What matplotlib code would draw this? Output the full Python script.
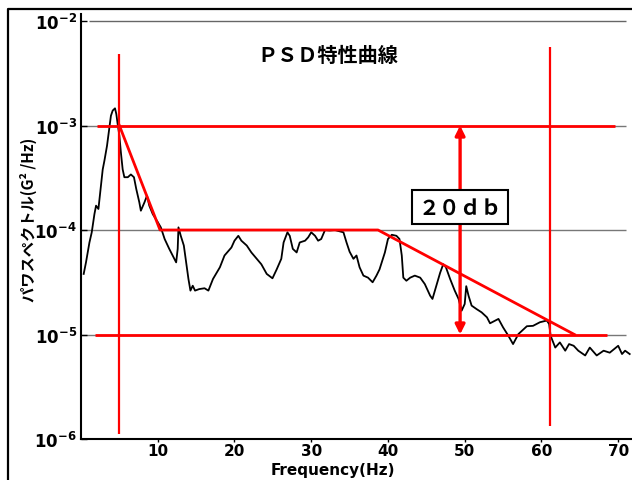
import matplotlib
matplotlib.use("Agg")
import matplotlib.pyplot as plt
from matplotlib.lines import Line2D

# ---- data ----------------------------------------------------------------
freq = [0.35, 0.65, 1.1, 1.4, 1.75, 1.96, 2.27, 2.6, 2.83, 3.05, 3.39, 3.7, 3.9,
        4.13, 4.43, 4.6, 4.78, 5.0, 5.2, 5.43, 5.65, 6.1, 6.5, 6.9, 7.2, 7.6, 7.8,
        8.27, 8.6, 8.9, 9.35, 10.0, 10.4, 10.9, 11.5, 11.95, 12.4, 12.6, 12.7, 13.0,
        13.4, 13.7, 14.0, 14.26, 14.56, 14.86, 15.4, 16.1, 16.6, 17.2, 18.1, 18.7,
        19.6, 20.0, 20.5, 20.9, 21.6, 22.2, 22.9, 23.5, 24.2, 24.95, 25.5, 26.1,
        26.4, 26.9, 27.2, 27.6, 28.1, 28.5, 29.2, 29.6, 30.0, 30.5, 30.9, 31.3,
        31.8, 32.4, 33.1, 33.5, 34.2, 34.6, 35.0, 35.5, 35.9, 36.3, 36.8, 37.4,
        38.0, 38.5, 38.9, 39.6, 40.0, 40.5, 41.1, 41.5, 41.8, 42.0, 42.4, 42.9,
        43.5, 44.2, 44.8, 45.5, 45.8, 46.3, 46.8, 47.2, 47.55, 48.1, 48.7, 49.2,
        49.6, 50.0, 50.2, 50.5, 50.9, 51.55, 52.2, 52.9, 53.3, 54.4, 55.0, 55.7,
        56.3, 57.0, 58.1, 58.9, 59.8, 60.7, 61.0, 61.2, 61.8, 62.4, 63.1, 63.6,
        64.2, 64.8, 65.7, 66.3, 67.2, 68.1, 68.9, 70.0, 70.5, 70.9, 71.5]
psd = [3.8e-5, 4.9e-5, 7.6e-5, 9.5e-5, 1.42e-4, 1.71e-4, 1.59e-4, 2.65e-4, 3.8e-4,
       4.6e-4, 6.4e-4, 9.6e-4, 1.24e-3, 1.39e-3, 1.46e-3, 1.29e-3, 1.03e-3, 8.0e-4,
       5.5e-4, 3.8e-4, 3.2e-4, 3.2e-4, 3.4e-4, 3.2e-4, 2.47e-4, 1.84e-4, 1.53e-4,
       1.84e-4, 2.13e-4, 1.71e-4, 1.42e-4, 1.19e-4, 1.06e-4, 8.2e-5, 6.6e-5, 5.7e-5,
       4.9e-5, 6.6e-5, 1.06e-4, 8.8e-5, 7.1e-5, 4.9e-5, 3.4e-5, 2.63e-5, 2.93e-5,
       2.63e-5, 2.72e-5, 2.77e-5, 2.63e-5, 3.4e-5, 4.4e-5, 5.7e-5, 6.8e-5, 7.9e-5,
       8.8e-5, 7.9e-5, 7.1e-5, 6.1e-5, 5.3e-5, 4.7e-5, 3.8e-5, 3.45e-5, 4.2e-5,
       5.3e-5, 7.6e-5, 9.5e-5, 8.8e-5, 6.6e-5, 6.1e-5, 7.6e-5, 7.9e-5, 8.5e-5,
       9.5e-5, 8.8e-5, 7.9e-5, 8.2e-5, 1.0e-4, 9.9e-5, 1.0e-4, 9.8e-5, 9.5e-5,
       7.6e-5, 6.2e-5, 5.3e-5, 5.7e-5, 4.4e-5, 3.66e-5, 3.5e-5, 3.16e-5, 3.66e-5,
       4.2e-5, 6.1e-5, 8.2e-5, 9.0e-5, 8.8e-5, 8.2e-5, 5.7e-5, 3.5e-5, 3.27e-5,
       3.5e-5, 3.66e-5, 3.5e-5, 3.04e-5, 2.35e-5, 2.19e-5, 2.93e-5, 3.9e-5, 4.7e-5,
       4.4e-5, 3.4e-5, 2.63e-5, 2.19e-5, 1.69e-5, 1.96e-5, 2.9e-5, 2.35e-5, 1.89e-5,
       1.75e-5, 1.63e-5, 1.46e-5, 1.28e-5, 1.41e-5, 1.17e-5, 9.7e-6, 8.1e-6, 1.01e-5,
       1.2e-5, 1.21e-5, 1.31e-5, 1.36e-5, 1.26e-5, 9.7e-6, 7.5e-6, 8.4e-6, 7.0e-6,
       8.1e-6, 7.8e-6, 7.0e-6, 6.3e-6, 7.5e-6, 6.3e-6, 7.0e-6, 6.7e-6, 7.8e-6,
       6.5e-6, 7.0e-6, 6.5e-6]

# red guide lines (profile envelope)
env_f = [5.0, 10.3, 38.7, 64.3]
env_p = [1e-3, 1e-4, 1e-4, 1e-5]
vlines_f = [5.0, 61.1]
vlines_lo = [1.12e-6, 1.33e-6]
vlines_hi = [4.83e-3, 5.6e-3]
hl_p = [1e-3, 1e-5]
hl_lo = [2.1, 1.8]
hl_hi = [69.6, 68.6]
arrow_f = 49.4

x_ticks = [10, 20, 30, 40, 50, 60, 70]
y_ticks = [1e-6, 1e-5, 1e-4, 1e-3, 1e-2]
y_labels = [r"$\mathbf{10^{-6}}$", r"$\mathbf{10^{-5}}$", r"$\mathbf{10^{-4}}$",
            r"$\mathbf{10^{-3}}$", r"$\mathbf{10^{-2}}$"]

CJK = ["Noto Sans CJK JP", "DejaVu Sans"]
RED = "#ff0000"

W, H = 632, 481
fig = plt.figure(figsize=(W / 100, H / 100), dpi=100)
fig.patch.set_facecolor("white")

# outer frame (open at right/bottom, as in the scan)
fig.add_artist(Line2D([8 / W, 8 / W, 1.0], [0.0, 1 - 10 / H, 1 - 10 / H],
                      transform=fig.transFigure, color="black", lw=1.6))

ax = fig.add_axes([81 / W, 1 - 440 / H, (W - 81) / W, (440 - 15) / H])
ax.set_yscale("log")
ax.set_xlim(0, 71.8)
ax.set_ylim(1e-6, 10 ** -1.933)
for s in ("top", "right"):
    ax.spines[s].set_visible(False)
ax.spines["left"].set_linewidth(1.5)
ax.spines["bottom"].set_linewidth(1.5)

# decade grid lines
ax.hlines([1e-2], 1.1, 71.0, color="#666666", lw=1.0, zorder=1)
ax.hlines([1e-3, 1e-4, 1e-5], 0, 71.0, color="#777777", lw=1.0, zorder=1)

ax.plot(freq, psd, color="black", lw=1.3, zorder=3)

# red envelope + markers
ax.plot(env_f, env_p, color=RED, lw=2.0, zorder=4)
ax.hlines(hl_p, hl_lo, hl_hi, color=RED, lw=2.0, zorder=4)
ax.vlines(vlines_f, vlines_lo, vlines_hi, color=RED, lw=1.6, zorder=4)
ax.annotate("", xy=(arrow_f, hl_p[0]), xytext=(arrow_f, hl_p[1]),
            arrowprops=dict(arrowstyle="<|-|>", color=RED, lw=2.4,
                            mutation_scale=14, shrinkA=0, shrinkB=0), zorder=5)

ax.text(arrow_f, 10 ** -3.78, "２０ｄｂ", family=CJK, fontsize=15, fontweight="bold",
        ha="center", va="center", zorder=6,
        bbox=dict(boxstyle="square,pad=0.3", fc="white", ec="black", lw=1.5))

ax.set_xticks(x_ticks)
ax.set_xticklabels([str(t) for t in x_ticks], fontweight="bold", fontsize=11)
ax.set_yticks(y_ticks)
ax.set_yticklabels(y_labels, fontsize=12)
ax.minorticks_off()
ax.tick_params(axis="x", length=2, width=1, pad=1)
ax.tick_params(axis="y", direction="in", length=4, width=1, pad=3)

fig.text(328 / W, 1 - 55 / H, "ＰＳＤ特性曲線", family=CJK, fontsize=14.5,
         fontweight="bold", ha="center", va="center")
fig.text(333 / W, 1 - 471 / H, "Frequency(Hz)", fontsize=11, fontweight="bold",
         ha="center", va="center")
fig.text(28 / W, 1 - 220 / H, "パワスペクトル(G² /Hz)", family=CJK, fontsize=11,
         fontweight="bold", rotation=90, ha="center", va="center")

fig.savefig("out.png", dpi=100)
